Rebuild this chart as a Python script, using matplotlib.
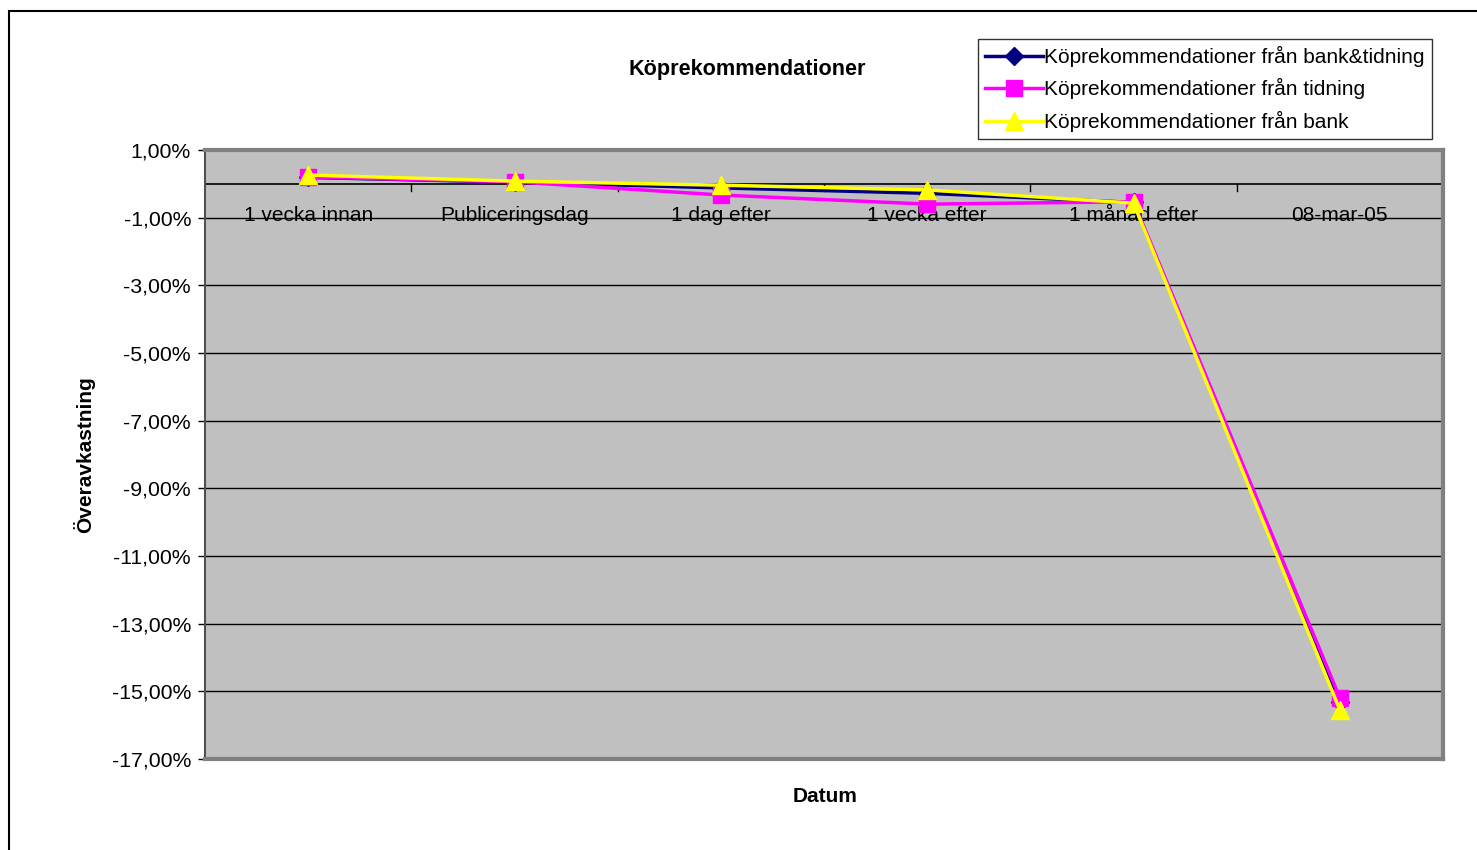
import numpy as np
import matplotlib.pyplot as plt
from matplotlib.patches import Rectangle

plt.rcParams['font.family'] = ['Liberation Sans', 'DejaVu Sans']

# ---------- data ----------
categories = ["1 vecka innan", "Publiceringsdag", "1 dag efter",
              "1 vecka efter", "1 månad efter", "08-mar-05"]
bank_tidning = [0.19, 0.05, -0.12, -0.28, -0.55, -15.31]
tidning = [0.20, 0.06, -0.33, -0.60, -0.53, -15.19]
bank = [0.26, 0.08, -0.04, -0.18, -0.57, -15.55]

series_names = ["Köprekommendationer från bank&tidning",
                "Köprekommendationer från tidning",
                "Köprekommendationer från bank"]
yticks = [1, -1, -3, -5, -7, -9, -11, -13, -15, -17]

W, H = 1477, 850
fig = plt.figure(figsize=(W / 100, H / 100), dpi=100)

# outer chart frame (runs off the right/bottom edge like the original)
fig.patches.append(Rectangle((9 / W, -0.05), 1.1, 1 - 11 / H + 0.05,
                             transform=fig.transFigure, fill=False,
                             edgecolor="black", linewidth=1.5))

ax = fig.add_axes([205 / W, 1 - 759 / H, (1443 - 205) / W, (759 - 150) / H])
ax.set_facecolor("#c0c0c0")

x = np.arange(len(categories))
ax.set_xlim(-0.5, len(categories) - 0.5)
ax.set_ylim(-17, 1)

# gridlines + category axis at zero
for yv in yticks[1:-1]:
    ax.axhline(yv, color="black", linewidth=1, zorder=1)
ax.axhline(0, color="black", linewidth=1.2, zorder=1)
for b in x[:-1] + 0.5:
    ax.plot([b, b], [0, -0.2], color="black", linewidth=1, zorder=1)

ax.plot(x, bank_tidning, color="#000080", linewidth=2.5, marker="D",
        markersize=9, label=series_names[0], zorder=3)
ax.plot(x, tidning, color="#ff00ff", linewidth=2.5, marker="s",
        markersize=12, label=series_names[1], zorder=4)
ax.plot(x, bank, color="#ffff00", linewidth=2.5, marker="^",
        markersize=13, label=series_names[2], zorder=5)

# category labels sit just below the zero line
for xi, lab in zip(x, categories):
    ax.text(xi, -0.93, lab, ha="center", va="center", fontsize=15, zorder=2)

ax.set_xticks([])
ax.set_yticks(yticks)
ax.set_yticklabels([f"{v:.2f}%".replace(".", ",") for v in yticks], fontsize=15.3)
ax.tick_params(axis="y", length=5, width=1, pad=5)

for side in ["top", "right", "bottom"]:
    ax.spines[side].set_color("#808080")
    ax.spines[side].set_linewidth(3)
ax.spines["left"].set_color("#505050")
ax.spines["left"].set_linewidth(1.5)

ax.set_ylabel("Överavkastning", fontsize=15, fontweight="bold", labelpad=12)
fig.text(825 / W, 1 - 796 / H, "Datum", ha="center", va="center",
         fontsize=15, fontweight="bold")
fig.text(747 / W, 1 - 69 / H, "Köprekommendationer", ha="center", va="center",
         fontsize=15.6, fontweight="bold")

leg = fig.legend(loc="upper left", bbox_to_anchor=(978 / W, 1 - 39 / H),
                 fontsize=15, frameon=True, fancybox=False, edgecolor="black",
                 handlelength=2.8, handletextpad=0.05, labelspacing=0.55,
                 borderpad=0.33, borderaxespad=0)
leg.get_frame().set_linewidth(1)

fig.savefig("out.png", dpi=100, facecolor="white")
